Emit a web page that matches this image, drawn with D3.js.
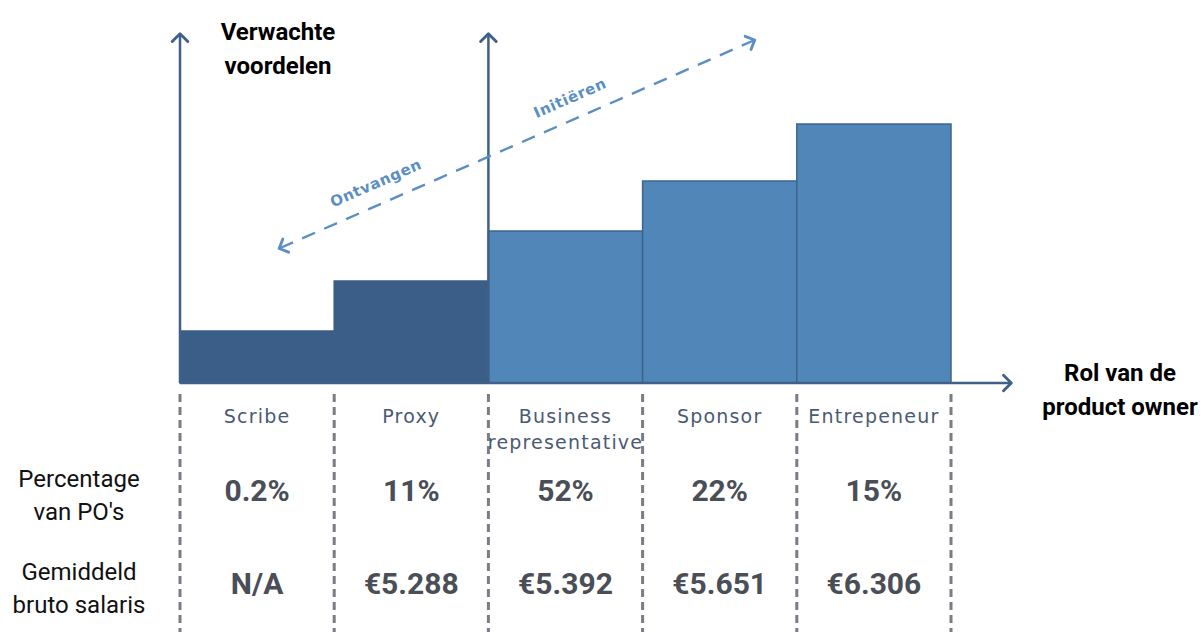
<!DOCTYPE html>
<html>
<head>
<meta charset="utf-8">
<script src="https://cdn.jsdelivr.net/npm/d3@7"></script>
<style>
  body { margin: 0; background: #fff; }
  svg { display: block; }
</style>
</head>
<body>
<svg id="chart"></svg>
<script>
const svgWidth = 1202,
    svgHeight = 632;

// data
const roles = ["Scribe", "Proxy", "Business representative", "Sponsor", "Entrepeneur"];
const roleLines = [["Scribe"], ["Proxy"], ["Business", "representative"], ["Sponsor"], ["Entrepeneur"]];
const benefits = [1.04, 2.04, 3.04, 4.04, 5.18];
const initiating = [false, false, true, true, true];
const shareLabels = ["0.2%", "11%", "52%", "22%", "15%"];
const salaryLabels = ["N/A", "€5.288", "€5.392", "€5.651", "€6.306"];
const rowTitles = [["Percentage", "van PO's"], ["Gemiddeld", "bruto salaris"]];

const darkBlue = "#3a5e88",
    lightBlue = "#5087b8",
    axisColor = "#3f6189",
    arrowBlue = "#5b8fc4",
    labelColor = "#4a5a75",
    valueColor = "#4a4e57";

const chart = d3.select("#chart")
    .attr("width", svgWidth)
    .attr("height", svgHeight);

var xScale = d3.scaleBand().domain(roles).range([180, 951]).padding(0);
var yScale = d3.scaleLinear().domain([0, 7]).range([383, 33]);
const bw = xScale.bandwidth();

// arrow markers
const defs = chart.append("defs");
function chevron(id, color, size, width) {
    defs.append("marker")
        .attr("id", id)
        .attr("viewBox", "-10 -10 20 20")
        .attr("markerWidth", size)
        .attr("markerHeight", size)
        .attr("markerUnits", "userSpaceOnUse")
        .attr("orient", "auto-start-reverse")
        .append("path")
        .attr("d", "M-5,-6 L1,0 L-5,6")
        .attr("fill", "none")
        .attr("stroke", color)
        .attr("stroke-width", width)
        .attr("stroke-linecap", "round")
        .attr("stroke-linejoin", "round");
}
chevron("axisArrow", axisColor, 26, 2.2);
chevron("dashArrow", arrowBlue, 24, 2.4);

// bars
chart.append("g").selectAll("rect")
    .data(roles)
    .enter()
    .append("rect")
    .attr("x", d => xScale(d))
    .attr("y", (d, i) => yScale(benefits[i]))
    .attr("width", bw)
    .attr("height", (d, i) => yScale(0) - yScale(benefits[i]))
    .attr("fill", (d, i) => initiating[i] ? lightBlue : darkBlue)
    .attr("stroke", (d, i) => initiating[i] ? "#3d6490" : darkBlue)
    .attr("stroke-width", 1.5);

// axes
const axes = chart.append("g")
    .attr("fill", "none")
    .attr("stroke", axisColor)
    .attr("stroke-width", 2.5);

axes.append("line")
    .attr("x1", xScale.range()[0]).attr("y1", yScale(0))
    .attr("x2", xScale.range()[0]).attr("y2", yScale(7) + 2)
    .attr("marker-end", "url(#axisArrow)");

axes.append("line")
    .attr("x1", xScale(roles[2])).attr("y1", yScale(0))
    .attr("x2", xScale(roles[2])).attr("y2", yScale(7) + 2)
    .attr("marker-end", "url(#axisArrow)");

axes.append("line")
    .attr("x1", xScale.range()[0]).attr("y1", yScale(0))
    .attr("x2", 1010).attr("y2", yScale(0))
    .attr("marker-end", "url(#axisArrow)");

// dashed diagonal arrow
const dashStart = [xScale(roles[0]) + bw * 0.65, yScale(2.7)],
    dashEnd = [xScale(roles[3]) + bw * 0.72, yScale(6.85)];

chart.append("line")
    .attr("x1", dashStart[0]).attr("y1", dashStart[1])
    .attr("x2", dashEnd[0]).attr("y2", dashEnd[1])
    .attr("stroke", arrowBlue)
    .attr("stroke-width", 2.4)
    .attr("stroke-dasharray", "14,10")
    .attr("marker-start", "url(#dashArrow)")
    .attr("marker-end", "url(#dashArrow)");

const angle = Math.atan2(dashEnd[1] - dashStart[1], dashEnd[0] - dashStart[0]) * 180 / Math.PI;
function along(t, text) {
    const px = dashStart[0] + (dashEnd[0] - dashStart[0]) * t,
        py = dashStart[1] + (dashEnd[1] - dashStart[1]) * t;
    chart.append("text")
        .attr("transform", `translate(${px},${py}) rotate(${angle})`)
        .attr("y", -16)
        .attr("text-anchor", "middle")
        .attr("font-family", "'DejaVu Sans', sans-serif")
        .attr("font-weight", 700)
        .attr("font-size", 15)
        .attr("letter-spacing", 0.6)
        .attr("fill", arrowBlue)
        .text(text);
}
along(0.22, "Ontvangen");
along(0.63, "Initiëren");

// vertical dashed dividers
const dividers = roles.map(d => xScale(d)).concat([xScale.range()[1]]);
chart.append("g").selectAll("line")
    .data(dividers)
    .enter()
    .append("line")
    .attr("x1", d => d).attr("x2", d => d)
    .attr("y1", 394).attr("y2", svgHeight)
    .attr("stroke", "#7b7d84")
    .attr("stroke-width", 3)
    .attr("stroke-dasharray", "8,5");

// category labels
chart.append("g").selectAll("text")
    .data(roles)
    .enter()
    .append("text")
    .attr("x", d => xScale(d) + bw / 2)
    .attr("y", 423)
    .attr("text-anchor", "middle")
    .attr("font-family", "'DejaVu Sans', sans-serif")
    .attr("font-size", 19)
    .attr("letter-spacing", 1.2)
    .attr("fill", labelColor)
    .each(function(d, i) {
        roleLines[i].forEach((line, j) => {
            d3.select(this).append("tspan")
                .attr("x", xScale(d) + bw / 2)
                .attr("dy", j == 0 ? 0 : 26)
                .text(line);
        });
    });

// value rows
function valueRow(values, y) {
    chart.append("g").selectAll("text")
        .data(values)
        .enter()
        .append("text")
        .attr("x", (d, i) => xScale(roles[i]) + bw / 2)
        .attr("y", y)
        .attr("text-anchor", "middle")
        .attr("font-family", "Roboto, sans-serif")
        .attr("font-weight", 700)
        .attr("font-size", 30)
        .attr("fill", valueColor)
        .text(d => d);
}
valueRow(shareLabels, 501);
valueRow(salaryLabels, 594);

// row titles
const rowY = [487, 580];
rowTitles.forEach((lines, r) => {
    const t = chart.append("text")
        .attr("x", 79)
        .attr("y", rowY[r])
        .attr("text-anchor", "middle")
        .attr("font-family", "Roboto, sans-serif")
        .attr("font-size", 24)
        .attr("fill", "#111");
    lines.forEach((line, j) => {
        t.append("tspan").attr("x", 79).attr("dy", j == 0 ? 0 : 33).text(line);
    });
});

// axis titles
function bold(lines, x, y) {
    const t = chart.append("text")
        .attr("x", x)
        .attr("y", y)
        .attr("text-anchor", "middle")
        .attr("font-family", "Roboto, sans-serif")
        .attr("font-weight", 700)
        .attr("font-size", 24)
        .attr("fill", "#000");
    lines.forEach((line, j) => {
        t.append("tspan").attr("x", x).attr("dy", j == 0 ? 0 : 34).text(line);
    });
}
bold(["Verwachte", "voordelen"], 278, 40);
bold(["Rol van de", "product owner"], 1120, 381);
</script>
</body>
</html>
